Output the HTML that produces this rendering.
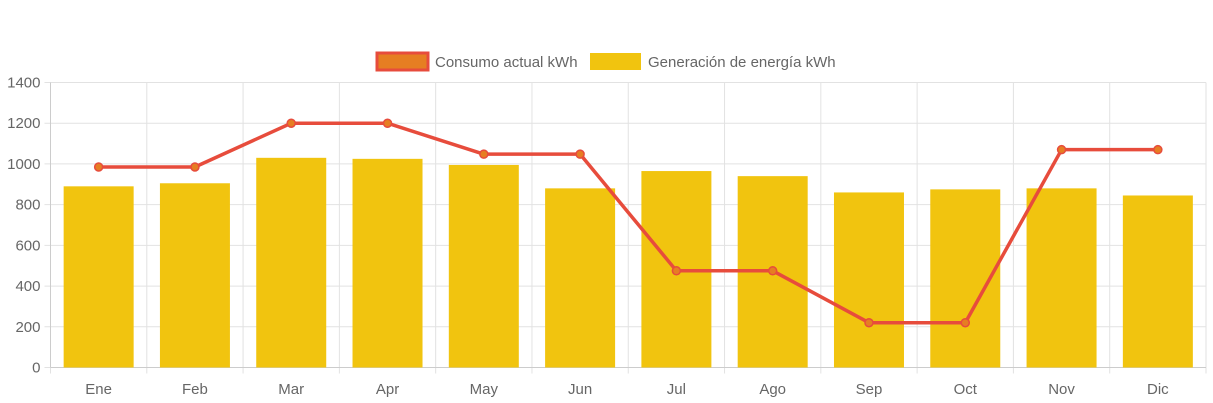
<!DOCTYPE html>
<html><head><meta charset="utf-8"><style>
body{margin:0;background:#fff;font-family:"Liberation Sans",Arial,sans-serif;}
svg{display:block}
</style></head><body>
<svg id="chart" width="1213" height="403" xmlns="http://www.w3.org/2000/svg"></svg>
<script>
const categories=["Ene","Feb","Mar","Apr","May","Jun","Jul","Ago","Sep","Oct","Nov","Dic"];
const generation=[890,905,1030,1025,995,880,965,940,860,875,880,845];
const consumption=[985,985,1200,1200,1048,1048,475,475,220,220,1070,1070];
const yTicks=[0,200,400,600,800,1000,1200,1400];
const NS="http://www.w3.org/2000/svg";
const svg=document.getElementById('chart');
const L=50.5,R=1206,T=82.5,B=367.5,yMax=1400;
const cw=(R-L)/categories.length;
const x=i=>L+cw*(i+0.5);
const y=v=>B-(v/yMax)*(B-T);
function mk(t,a,p){const e=document.createElementNS(NS,t);for(const k in a)e.setAttribute(k,a[k]);(p||svg).appendChild(e);return e;}
const grid=mk('g',{});


yTicks.forEach(v=>{
  mk('line',{x1:L-6,x2:R,y1:y(v),y2:y(v),stroke:'#e2e2e2','stroke-width':1},grid);
  const t=mk('text',{x:L-10,y:y(v)+5,'text-anchor':'end','font-size':15,fill:'#666'});
  t.textContent=v;
  
  
});
for(let i=0;i<=categories.length;i++){
  mk('line',{x1:L+cw*i,x2:L+cw*i,y1:T,y2:B+6,stroke:'#e2e2e2','stroke-width':1},grid);
}
mk('line',{x1:L,x2:L,y1:T,y2:B,stroke:'#ccc'},grid);
mk('line',{x1:L,x2:R,y1:B,y2:B,stroke:'#ccc'},grid);
categories.forEach((c,i)=>{
  const t=mk('text',{x:x(i),y:394,'text-anchor':'middle','font-size':15,fill:'#666'});
  t.textContent=c;
  
  
});
const bw=70;
generation.forEach((v,i)=>{
  const r=mk('rect',{x:x(i)-bw/2,y:y(v),width:bw,height:B-y(v),fill:'#f1c40f'});
  
  
});
const pts=consumption.map((v,i)=>x(i)+','+y(v)).join(' ');
const pl=mk('polyline',{points:pts,fill:'none',stroke:'#e74c3c','stroke-width':3.5,'stroke-linejoin':'round'});


consumption.forEach((v,i)=>{
  const c=mk('circle',{cx:x(i),cy:y(v),r:4,fill:'#e67e22',stroke:'#e74c3c','stroke-width':1.5});
  
  
});
const lg=mk('g',{});


const l1=mk('g',{},lg);


mk('rect',{x:377,y:53,width:51,height:17,fill:'#e67e22',stroke:'#e74c3c','stroke-width':3},l1);
const t1=mk('text',{x:435,y:67,'font-size':15,fill:'#666'},l1);t1.textContent='Consumo actual kWh';
const l2=mk('g',{},lg);


mk('rect',{x:590,y:53,width:51,height:17,fill:'#f1c40f'},l2);
const t2=mk('text',{x:648,y:67,'font-size':15,fill:'#666'},l2);t2.textContent='Generación de energía kWh';
</script>
</body></html>
